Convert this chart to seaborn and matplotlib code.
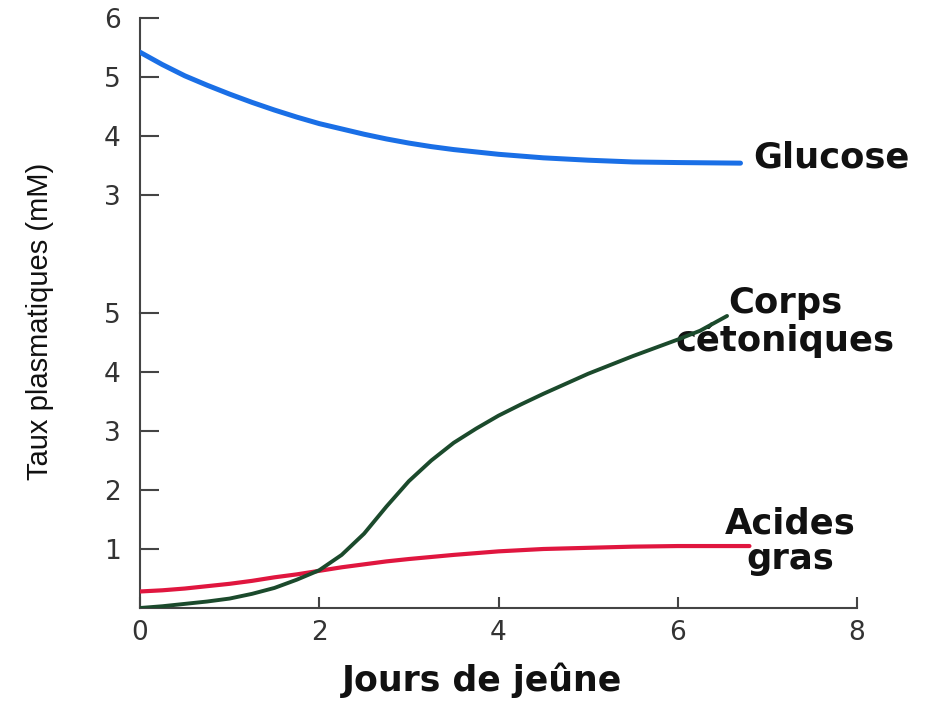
import matplotlib
matplotlib.use("Agg")
import matplotlib.pyplot as plt
import seaborn as sns
import pandas as pd

# ---- data ----
days_glucose = [0, 0.25, 0.5, 0.75, 1, 1.25, 1.5, 1.75, 2, 2.25, 2.5, 2.75, 3, 3.25, 3.5,
                3.75, 4, 4.5, 5, 5.5, 6, 6.7]
glucose = [5.42, 5.21, 5.02, 4.86, 4.71, 4.57, 4.44, 4.32, 4.21, 4.12, 4.03, 3.95, 3.88,
           3.82, 3.77, 3.73, 3.69, 3.63, 3.59, 3.56, 3.55, 3.54]

days_ketones = [0, 0.25, 0.5, 0.75, 1, 1.25, 1.5, 1.75, 2, 2.25, 2.5, 2.75, 3, 3.25, 3.5,
                3.75, 4, 4.25, 4.5, 4.75, 5, 5.25, 5.5, 5.75, 6, 6.25, 6.55]
ketones = [0.0, 0.03, 0.07, 0.11, 0.16, 0.24, 0.34, 0.48, 0.64, 0.90, 1.26, 1.72, 2.15,
           2.50, 2.80, 3.04, 3.26, 3.45, 3.63, 3.80, 3.97, 4.12, 4.27, 4.41, 4.55, 4.70, 4.95]

days_fatty = [0, 0.25, 0.5, 0.75, 1, 1.25, 1.5, 1.75, 2, 2.25, 2.5, 2.75, 3, 3.5, 4, 4.5,
              5, 5.5, 6, 6.8]
fatty = [0.28, 0.30, 0.33, 0.37, 0.41, 0.46, 0.52, 0.57, 0.63, 0.69, 0.74, 0.79, 0.83,
         0.90, 0.96, 1.00, 1.02, 1.04, 1.05, 1.05]

x_ticks = [0, 2, 4, 6, 8]
upper_ticks = [3, 4, 5, 6]
lower_ticks = [1, 2, 3, 4, 5]

x_label = "Jours de jeûne"
y_label = "Taux plasmatiques (mM)"
lbl_glucose = "Glucose"
lbl_ketones = "Corps\ncétoniques"
lbl_fatty = "Acides\ngras"

sns.set_theme(style="white")
plt.rcParams["font.family"] = ["DejaVu Sans"]

df_g = pd.DataFrame({"x": days_glucose, "y": glucose})
df_k = pd.DataFrame({"x": days_ketones, "y": ketones})
df_f = pd.DataFrame({"x": days_fatty, "y": fatty})

W, H = 934, 701
fig = plt.figure(figsize=(W / 100, H / 100), dpi=100)
fig.patch.set_facecolor("white")

left = 140 / W
width = 717 / W
ax_lo = fig.add_axes([left, (H - 608) / H, width, 295 / H])
ax_hi = fig.add_axes([left, (H - 313) / H, width, 295 / H])

spine_col = "#444444"
for ax in (ax_lo, ax_hi):
    ax.set_facecolor("none")
    ax.set_xlim(0, 8)
    for s in ("top", "right"):
        ax.spines[s].set_visible(False)
    ax.spines["left"].set_color(spine_col)
    ax.spines["left"].set_linewidth(1.5)
    ax.grid(False)

# lower panel
sns.lineplot(data=df_f, x="x", y="y", ax=ax_lo, color="#e0163f", linewidth=3.0, zorder=3)
sns.lineplot(data=df_k, x="x", y="y", ax=ax_lo, color="#1b4a2c", linewidth=2.8, zorder=4)
ax_lo.set_ylim(0, 5)
ax_lo.set_yticks(lower_ticks)
ax_lo.set_xticks(x_ticks)
ax_lo.spines["bottom"].set_color(spine_col)
ax_lo.spines["bottom"].set_linewidth(1.5)
ax_lo.tick_params(axis="y", direction="in", length=14, width=1.5, color=spine_col,
                  pad=14, labelsize=19, labelcolor="#333333", left=True)
ax_lo.tick_params(axis="x", direction="in", length=8, width=1.5, color=spine_col,
                  pad=9, labelsize=19, labelcolor="#333333", bottom=True)
ax_lo.set_xlabel("")
ax_lo.set_ylabel("")

# upper panel
sns.lineplot(data=df_g, x="x", y="y", ax=ax_hi, color="#1a6fe6", linewidth=3.6, zorder=3)
ax_hi.set_ylim(1, 6)
ax_hi.set_yticks(upper_ticks)
ax_hi.spines["bottom"].set_visible(False)
ax_hi.set_xticks([])
ax_hi.tick_params(axis="y", direction="in", length=14, width=1.5, color=spine_col,
                  pad=14, labelsize=19, labelcolor="#333333", left=True)
ax_hi.set_xlabel("")
ax_hi.set_ylabel("")

# curve labels
ax_hi.text(6.84, 3.63, lbl_glucose, fontsize=25.5, fontweight="bold", color="#111111",
           ha="left", va="center")
ax_lo.text(7.2, 4.85, lbl_ketones, fontsize=25.5, fontweight="bold", color="#111111",
           ha="center", va="center", ma="center", linespacing=1.08, clip_on=False)
ax_lo.text(7.25, 1.13, lbl_fatty, fontsize=25.5, fontweight="bold", color="#111111",
           ha="center", va="center", ma="center", linespacing=1.05, clip_on=False)

# axis titles
fig.text(482 / W, 1 - 680 / H, x_label, fontsize=25, fontweight="bold",
         color="#111111", ha="center", va="center")
fig.text(40 / W, 1 - 321 / H, y_label, fontsize=21, rotation=90,
         family=["Liberation Sans", "DejaVu Sans"], color="#111111",
         ha="center", va="center")

fig.savefig("out.png", dpi=100, facecolor="white")
